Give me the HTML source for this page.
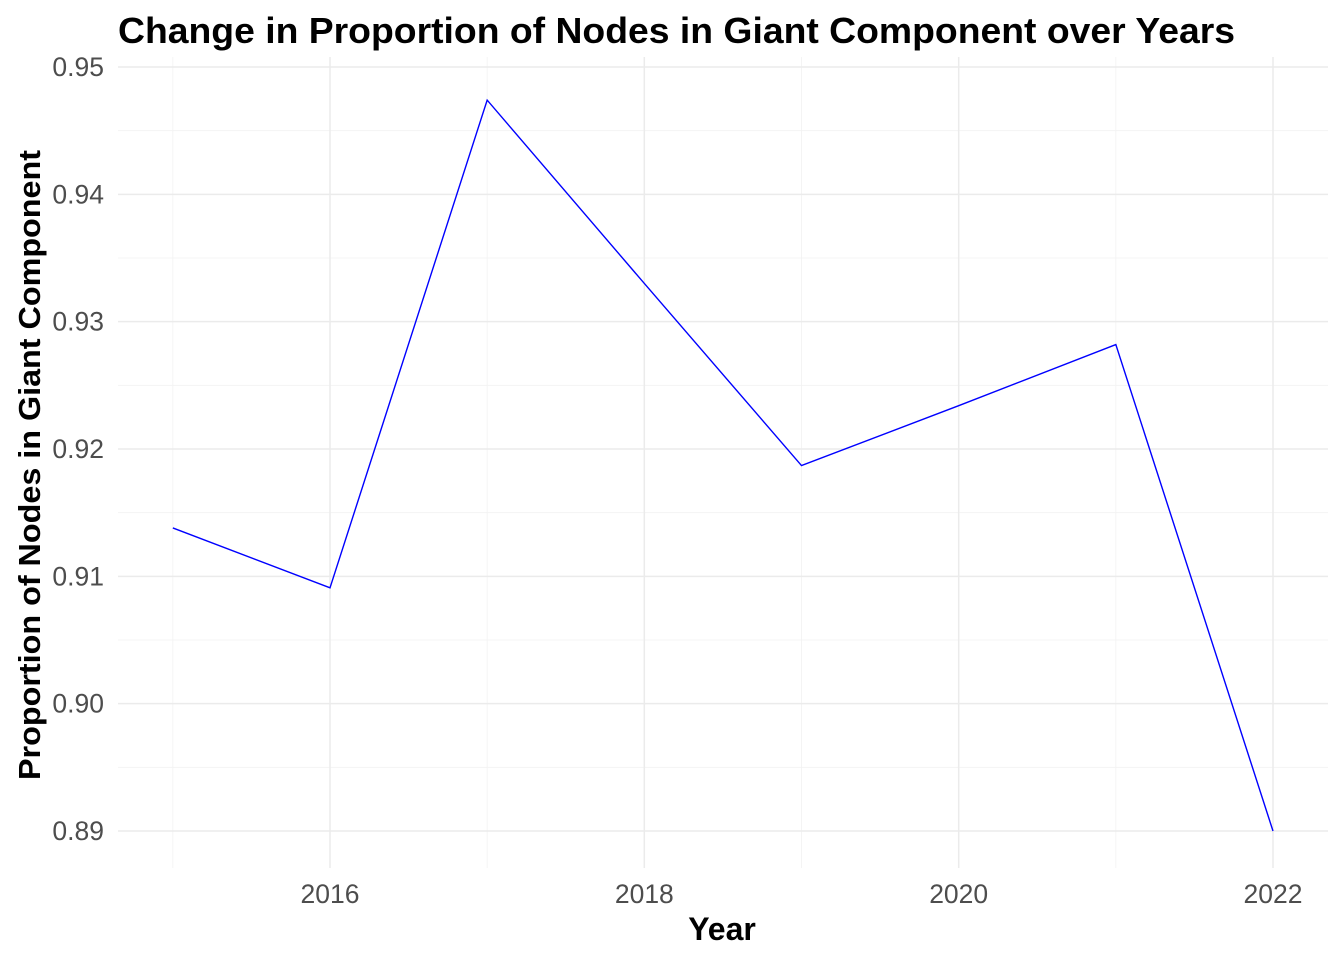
<!DOCTYPE html>
<html><head><meta charset="utf-8">
<style>
html,body{margin:0;padding:0;background:#fff;}
svg{display:block;font-family:"Liberation Sans",Arial,sans-serif;}
</style></head>
<body>
<svg id="chart" width="1344" height="960">
<rect x="0" y="0" width="1344" height="960" fill="#fff"/>
<g id="grid"></g>
<g id="axes"></g>
<path id="line" fill="none" stroke="#0000ff" stroke-width="1.4"/>
<text x="118" y="43" font-size="36" font-weight="bold" fill="#000" textLength="1117" lengthAdjust="spacingAndGlyphs">Change in Proportion of Nodes in Giant Component over Years</text>
<text x="722" y="940" font-size="32" font-weight="bold" text-anchor="middle" fill="#000">Year</text>
<text transform="translate(40,465) rotate(-90)" font-size="31" font-weight="bold" text-anchor="middle" fill="#000" textLength="630" lengthAdjust="spacingAndGlyphs">Proportion of Nodes in Giant Component</text>
</svg>
<script>
const years = [2015, 2016, 2017, 2018, 2019, 2020, 2021, 2022];
const values = [0.9138, 0.9091, 0.9474, 0.9330, 0.9187, 0.9234, 0.9282, 0.8900];
const xTicks = [2016, 2018, 2020, 2022];
const yTicks = [0.89, 0.90, 0.91, 0.92, 0.93, 0.94, 0.95];
const yTickLabels = ["0.89", "0.90", "0.91", "0.92", "0.93", "0.94", "0.95"];

const X0 = 2016, XPX0 = 330, XPX1 = 1273, X1 = 2022;
const Y0 = 0.89, YPX0 = 831, Y1 = 0.95, YPX1 = 67;
function sx(v){ return XPX0 + (v - X0) * (XPX1 - XPX0) / (X1 - X0); }
function sy(v){ return YPX0 + (v - Y0) * (YPX1 - YPX0) / (Y1 - Y0); }

const ns = "http://www.w3.org/2000/svg";
const grid = document.getElementById('grid');
const axes = document.getElementById('axes');
const L = 118, R = 1328, T = 57, B = 868;
function ln(x1,y1,x2,y2,w,c,name){
  const l = document.createElementNS(ns,'line');
  l.setAttribute('x1',x1); l.setAttribute('y1',y1); l.setAttribute('x2',x2); l.setAttribute('y2',y2);
  l.setAttribute('stroke',c); l.setAttribute('stroke-width',w);
  
  
  grid.appendChild(l);
}
for (let i = 0; i < yTicks.length - 1; i++) {
  const m = (yTicks[i] + yTicks[i+1]) / 2;
  ln(L, sy(m), R, sy(m), 0.8, '#f2f2f2', 'y-minor-gridline');
}
for (let i = 0; i <= xTicks.length; i++) {
  const m = xTicks[0] - 1 + i * 2;
  ln(sx(m), T, sx(m), B, 0.8, '#f2f2f2', 'x-minor-gridline');
}
yTicks.forEach((v, i) => {
  ln(L, sy(v), R, sy(v), 1.5, '#ebebeb', 'y-gridline');
  const t = document.createElementNS(ns,'text');
  t.setAttribute('x', 104); t.setAttribute('y', sy(v) + 9);
  t.setAttribute('text-anchor','end'); t.setAttribute('font-size','26.5'); t.setAttribute('fill','#4d4d4d');
  t.textContent = yTickLabels[i];
  
  
  axes.appendChild(t);
});
xTicks.forEach(v => {
  ln(sx(v), T, sx(v), B, 1.5, '#ebebeb', 'x-gridline');
  const t = document.createElementNS(ns,'text');
  t.setAttribute('x', sx(v)); t.setAttribute('y', 903);
  t.setAttribute('text-anchor','middle'); t.setAttribute('font-size','26.5'); t.setAttribute('fill','#4d4d4d');
  t.textContent = v;
  
  
  axes.appendChild(t);
});
const line = document.getElementById('line');
line.setAttribute('d', years.map((y, i) => (i ? 'L' : 'M') + sx(y) + ',' + sy(values[i])).join(' '));


</script>
</body></html>
